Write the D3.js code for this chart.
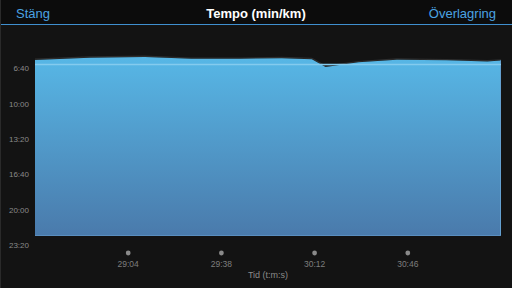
<!DOCTYPE html>
<html>
<head>
<meta charset="utf-8">
<script src="https://cdnjs.cloudflare.com/ajax/libs/d3/7.8.5/d3.min.js"></script>
<style>
  html, body { margin: 0; padding: 0; background: #131313; }
  svg { display: block; font-family: "Liberation Sans", Arial, sans-serif; }
</style>
</head>
<body>
<script>
// time in seconds since start, pace in seconds per km
var times = [1710, 1730, 1750, 1767, 1785, 1800, 1811, 1816, 1828, 1842, 1860, 1875, 1880];
var paces = [352, 339, 335, 345, 345, 342, 347, 391, 365, 350, 354, 360, 355];
var avgPace = 377;
var yTicks = [400, 600, 800, 1000, 1200, 1400];
var xTicks = [1744, 1778, 1812, 1846];

var W = 512, H = 288;
var left = 35, right = 501, bottom = 236;

function fmt(s) {
  var m = Math.floor(s / 60), r = s % 60;
  return m + ':' + (r < 10 ? '0' : '') + r;
}

var svg = d3.select('body').append('svg').attr('width', W).attr('height', H);

// header
svg.append('rect').attr('x', 0).attr('y', 0).attr('width', W).attr('height', 24).attr('fill', '#0c0c0c');
svg.append('rect').attr('x', 0).attr('y', 24).attr('width', W).attr('height', 1).attr('fill', '#3f8fcf');
svg.append('rect').attr('x', 0).attr('y', 0).attr('width', 1).attr('height', H).attr('fill', '#2a2a2a');

svg.append('text').attr('x', 16).attr('y', 18).attr('fill', '#4ba3e3')
  .style('font-size', '13px').text('Stäng');
svg.append('text').attr('x', 256).attr('y', 18).attr('fill', '#ffffff')
  .attr('text-anchor', 'middle').style('font-size', '13px').style('font-weight', 'bold')
  .text('Tempo (min/km)');
svg.append('text').attr('x', 496).attr('y', 18).attr('fill', '#4ba3e3')
  .attr('text-anchor', 'end').style('font-size', '13px').text('Överlagring');

// scales
var x = d3.scaleLinear().domain([1710, 1880]).range([left, right]);
var y = d3.scaleLinear().domain([400, 1400]).range([68.5, 245.3]);

// gradient
var defs = svg.append('defs');
var grad = defs.append('linearGradient').attr('id', 'fill')
  .attr('x1', 0).attr('y1', 0).attr('x2', 0).attr('y2', 1);
grad.append('stop').attr('offset', '0%').attr('stop-color', '#57b7e6');
grad.append('stop').attr('offset', '100%').attr('stop-color', '#4a7aab');

var pts = times.map(function(t, i) { return [t, paces[i]]; });

// faint shadow line above the area
var shadow = d3.line().x(function(d) { return x(d[0]); }).y(function(d) { return y(d[1]) - 0.8; });
svg.append('path').attr('d', shadow(pts)).attr('fill', 'none')
  .attr('stroke', '#2e2e2e').attr('stroke-width', 1.2);

var area = d3.area()
  .x(function(d) { return x(d[0]); })
  .y0(bottom)
  .y1(function(d) { return y(d[1]); });
svg.append('path').attr('d', area(pts)).attr('fill', 'url(#fill)');

// edges of the area
svg.append('line').attr('x1', right - 0.5).attr('x2', right - 0.5)
  .attr('y1', y(paces[paces.length - 1])).attr('y2', bottom)
  .attr('stroke', '#64a0d0').attr('stroke-width', 1);
svg.append('line').attr('x1', left).attr('x2', right)
  .attr('y1', bottom - 0.5).attr('y2', bottom - 0.5)
  .attr('stroke', '#5a8ebf').attr('stroke-width', 1);

// average line
svg.append('line').attr('x1', left).attr('x2', right)
  .attr('y1', y(avgPace)).attr('y2', y(avgPace))
  .attr('stroke', '#84cbee').attr('stroke-width', 1.5);

// y labels
svg.selectAll('.ylab').data(yTicks).enter().append('text')
  .attr('class', 'ylab')
  .attr('x', 29).attr('y', function(d) { return y(d); })
  .attr('dy', '0.35em').attr('text-anchor', 'end')
  .attr('fill', '#8a8a8a').style('font-size', '8px')
  .text(fmt);

// x ticks: dots and labels
svg.selectAll('.dot').data(xTicks).enter().append('circle')
  .attr('cx', function(d) { return x(d); }).attr('cy', 253).attr('r', 2.4)
  .attr('fill', '#8a8a8a');
svg.selectAll('.xlab').data(xTicks).enter().append('text')
  .attr('x', function(d) { return x(d); }).attr('y', 264).attr('dy', '0.35em')
  .attr('text-anchor', 'middle').attr('fill', '#7e7e7e').style('font-size', '8.5px')
  .text(fmt);

svg.append('text').attr('x', (left + right) / 2).attr('y', 275).attr('dy', '0.35em')
  .attr('text-anchor', 'middle').attr('fill', '#8a8a8a').style('font-size', '9px')
  .text('Tid (t:m:s)');
</script>
</body>
</html>
